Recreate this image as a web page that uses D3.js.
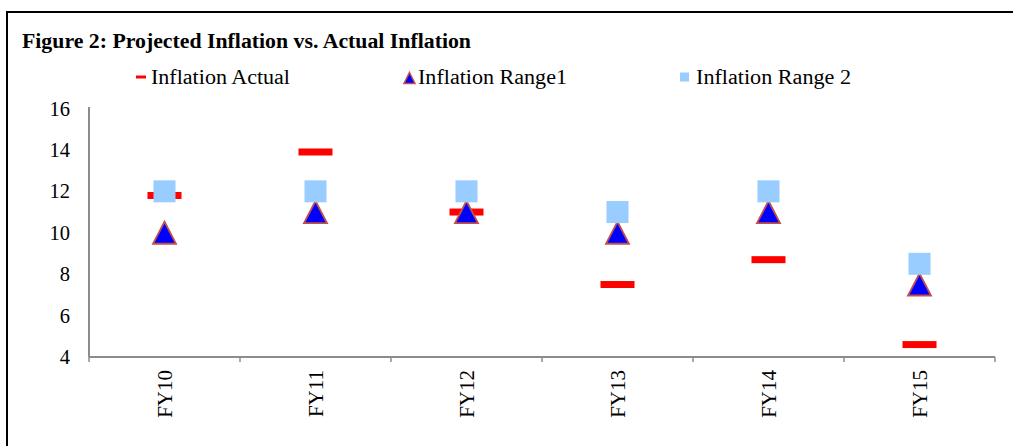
<!DOCTYPE html>
<html>
<head>
<meta charset="utf-8">
<script src="https://cdn.jsdelivr.net/npm/d3@7"></script>
<style>
  html, body { margin: 0; padding: 0; background: #fff; }
  svg { display: block; }
  text { font-family: "Liberation Serif", "Times New Roman", serif; fill: #000; }
</style>
</head>
<body>
<svg id="chart" width="1013" height="446"></svg>
<script>
const categories = ["FY10", "FY11", "FY12", "FY13", "FY14", "FY15"];
const inflationActual = [11.8, 13.9, 11.0, 7.5, 8.7, 4.6];
const inflationRange1 = [10, 11, 11, 10, 11, 7.5];
const inflationRange2 = [12, 12, 12, 11, 12, 8.5];
const yTicks = [4, 6, 8, 10, 12, 14, 16];
const seriesNames = ["Inflation Actual", "Inflation Range1", "Inflation Range 2"];
const titleText = "Figure 2: Projected Inflation vs. Actual Inflation";

const svg = d3.select("#chart");

// frame
svg.append("path")
  .attr("d", "M7,446 L7,12 L1013,12")
  .attr("fill", "none").attr("stroke", "#000").attr("stroke-width", 2);

// title
svg.append("text")
  .attr("x", 22).attr("y", 48)
  .attr("font-size", 20).attr("font-weight", "bold")
  .attr("textLength", 449).attr("lengthAdjust", "spacingAndGlyphs")
  .text(titleText);

const x = d3.scaleBand().domain(categories).range([89, 995]).padding(0);
const y = d3.scaleLinear().domain([4, 16]).range([357, 108.5]);

const axisColor = "#8c8c8c";

// triangle path generator (bounding box centred on the value)
const triPath = (hw, hh) => `M0,${-hh}L${hw},${hh}L${-hw},${hh}Z`;

// y axis
const yAxis = svg.append("g").attr("transform", "translate(89,0)")
  .call(d3.axisLeft(y).tickValues(yTicks).tickSize(0).tickPadding(19).tickFormat(d3.format("d")));
yAxis.select(".domain").attr("stroke", axisColor).attr("stroke-width", 2).attr("d", `M0,${y(16) - 1.5}V${y(4)}`);
yAxis.selectAll("text").attr("font-size", 20.5).attr("font-family", "Liberation Serif, serif").attr("fill", "#000");

// x axis
const xAxisG = svg.append("g").attr("transform", `translate(0,${y(4)})`);
xAxisG.append("line").attr("x1", 89).attr("x2", 995).attr("y1", 0).attr("y2", 0)
  .attr("stroke", axisColor).attr("stroke-width", 2);
const bounds = categories.map(c => x(c)).concat([x(categories[categories.length - 1]) + x.bandwidth()]);
xAxisG.selectAll("line.tick").data(bounds).enter().append("line")
  .attr("class", "tick")
  .attr("x1", d => d).attr("x2", d => d).attr("y1", 0).attr("y2", 5)
  .attr("stroke", axisColor).attr("stroke-width", 1.5);
xAxisG.selectAll("text.cat").data(categories).enter().append("text")
  .attr("class", "cat")
  .attr("transform", d => `translate(${x(d) + x.bandwidth() / 2},13) rotate(-90)`)
  .attr("text-anchor", "end").attr("dy", "0.35em")
  .attr("font-size", 21)
  .text(d => d);

const cx = i => x(categories[i]) + x.bandwidth() / 2;

// series: Actual (red dash)
svg.append("g").selectAll("rect").data(inflationActual).enter().append("rect")
  .attr("x", (d, i) => cx(i) - 17).attr("y", d => y(d) - 3.5)
  .attr("width", 34).attr("height", 7).attr("fill", "#ff0000");

// Range1 triangles
svg.append("g").selectAll("path").data(inflationRange1).enter().append("path")
  .attr("d", triPath(11.5, 11))
  .attr("transform", (d, i) => `translate(${cx(i)},${y(d)})`)
  .attr("fill", "#0000ff").attr("stroke", "#c0504d").attr("stroke-width", 1.8)
  .attr("stroke-linejoin", "miter");

// Range2 squares
svg.append("g").selectAll("rect").data(inflationRange2).enter().append("rect")
  .attr("x", (d, i) => cx(i) - 11).attr("y", d => y(d) - 11)
  .attr("width", 22).attr("height", 22).attr("fill", "#99ccff");

// legend
const legY = 77;
const leg = svg.append("g");
leg.append("rect").attr("x", 136).attr("y", legY - 1.5).attr("width", 10).attr("height", 3).attr("fill", "#ff0000");
leg.append("text").attr("x", 151).attr("y", legY).attr("dy", "0.35em").attr("font-size", 20)
  .attr("textLength", 139).attr("lengthAdjust", "spacingAndGlyphs").text(seriesNames[0]);
leg.append("path").attr("d", triPath(5.5, 5.5))
  .attr("transform", `translate(409.5,${legY + 1})`)
  .attr("fill", "#0000ff").attr("stroke", "#c0504d").attr("stroke-width", 1.5);
leg.append("text").attr("x", 418).attr("y", legY).attr("dy", "0.35em").attr("font-size", 20)
  .attr("textLength", 149).attr("lengthAdjust", "spacingAndGlyphs").text(seriesNames[1]);
leg.append("rect").attr("x", 680).attr("y", legY - 4.5).attr("width", 9).attr("height", 9).attr("fill", "#99ccff");
leg.append("text").attr("x", 696).attr("y", legY).attr("dy", "0.35em").attr("font-size", 20)
  .attr("textLength", 155).attr("lengthAdjust", "spacingAndGlyphs").text(seriesNames[2]);
</script>
</body>
</html>
